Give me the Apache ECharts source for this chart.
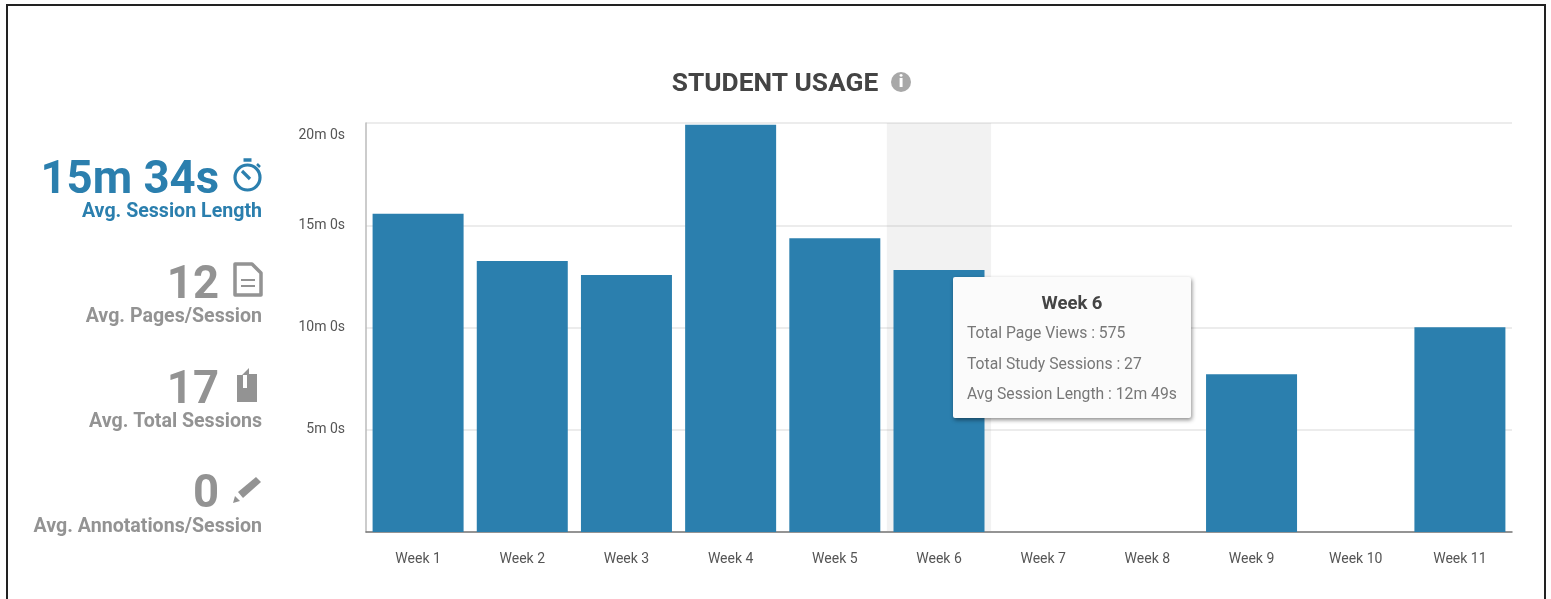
<!DOCTYPE html>
<html>
<head>
<meta charset="utf-8">
<style>
html,body{margin:0;padding:0;background:#fff;overflow:hidden}
#chart{width:1551px;height:599px}
</style>
<script src="https://cdn.jsdelivr.net/npm/echarts@6/dist/echarts.min.js"></script>
</head>
<body>
<div id="chart"></div>
<script>
const categories = ['Week 1','Week 2','Week 3','Week 4','Week 5','Week 6','Week 7','Week 8','Week 9','Week 10','Week 11'];
const sessionSeconds = [934, 795, 754, 1195, 862, 769, 0, 0, 463, 0, 601];
const yTickLabels = ['', '5m 0s', '10m 0s', '15m 0s', '20m 0s'];
const tooltipTitle = 'Week 6';
const tooltipLines = ['Total Page Views : 575', 'Total Study Sessions : 27', 'Avg Session Length : 12m 49s'];
const kpiValues = ['15m 34s', '12', '17', '0'];
const kpiLabels = ['Avg. Session Length', 'Avg. Pages/Session', 'Avg. Total Sessions', 'Avg. Annotations/Session'];
const BLUE = '#2b7fae', GREY = '#939393';
const FF = 'Roboto, sans-serif';

function kpiText(i, numY, capY, color) {
  return [
    {type:'text', silent:true, style:{text:kpiValues[i], x:219, y:numY, align:'right', verticalAlign:'middle', fill:color, font:'bold 45.5px '+FF}},
    {type:'text', silent:true, style:{text:kpiLabels[i], x:262, y:capY, align:'right', verticalAlign:'middle', fill:color, font:'bold 19.6px '+FF}}
  ];
}
const graphic = [
  {type:'rect', silent:true, z:-1, shape:{x:7,y:5,width:1538,height:620}, style:{fill:'#fff',stroke:'#222',lineWidth:2}},
  ...kpiText(0,182,212,BLUE), ...kpiText(1,287,317,GREY), ...kpiText(2,392,422,GREY), ...kpiText(3,496,527,GREY),
  // stopwatch
  {type:'circle', silent:true, shape:{cx:247.5,cy:177.5,r:12.5}, style:{fill:'none',stroke:BLUE,lineWidth:3.2}},
  {type:'line', silent:true, shape:{x1:243.5,y1:160,x2:251.5,y2:160}, style:{stroke:BLUE,lineWidth:3.5}},
  {type:'line', silent:true, shape:{x1:242,y1:171,x2:250,y2:179}, style:{stroke:BLUE,lineWidth:3.2}},
  {type:'line', silent:true, shape:{x1:257,y1:164,x2:260,y2:167}, style:{stroke:BLUE,lineWidth:2.5}},
  // document
  {type:'polygon', silent:true, shape:{points:[[235,264],[252,264],[261,273],[261,295],[235,295]]}, style:{fill:'none',stroke:GREY,lineWidth:3.5,lineJoin:'round'}},
  {type:'line', silent:true, shape:{x1:241,y1:280,x2:255,y2:280}, style:{stroke:GREY,lineWidth:2}},
  {type:'line', silent:true, shape:{x1:241,y1:286,x2:255,y2:286}, style:{stroke:GREY,lineWidth:2}},
  // tablet of sessions
  {type:'polygon', silent:true, shape:{points:[[237,375],[242,375],[249,368],[249,374],[257,374],[257,402],[237,402]]}, style:{fill:GREY}},
  {type:'rect', silent:true, shape:{x:243,y:375,width:4,height:13}, style:{fill:'#fff'}},
  // pencil
  {type:'polygon', silent:true, shape:{points:[[238,492],[256,477],[261,482],[243,498]]}, style:{fill:GREY}},
  {type:'polygon', silent:true, shape:{points:[[233,503],[235,496],[240,501]]}, style:{fill:GREY}},
  // info icon
  {type:'circle', silent:true, shape:{cx:901,cy:82,r:10}, style:{fill:'#a8a8a8'}},
  {type:'text', silent:true, style:{text:'i', x:901, y:82.5, align:'center', verticalAlign:'middle', fill:'#fff', font:'900 17px '+FF}}
];

const chart = echarts.init(document.getElementById('chart'), null, {renderer:'canvas'});
chart.setOption({
  animation:false,
  backgroundColor:'#fff',
  title:{text:'STUDENT USAGE', left:770, top:79, textAlign:'center', textVerticalAlign:'middle',
    textStyle:{fontFamily:FF,fontWeight:'bold',fontSize:26.3,color:'#444'}},
  grid:{left:366,right:39,top:123,bottom:67,containLabel:false},
  tooltip:{
    trigger:'axis', alwaysShowContent:true, showDelay:0, transitionDuration:0,
    axisPointer:{type:'shadow', z:1, shadowStyle:{color:'rgba(150,150,150,0.12)'}},
    position:[953,277],
    padding:0, borderWidth:0, backgroundColor:'#fbfbfb',
    extraCssText:'box-shadow:1px 2px 4px rgba(0,0,0,0.45);border-radius:2px;',
    formatter:function(){
      return '<div style="width:238px;height:141px;box-sizing:border-box;padding:16px 14px 0;font-family:Roboto,sans-serif;color:#777;font-size:15.7px;line-height:30.5px;">'+
        '<div style="text-align:center;font-weight:bold;font-size:18.5px;color:#444;line-height:20px;margin-bottom:5px;">'+tooltipTitle+'</div>'+
        tooltipLines.map(l=>'<div style="white-space:nowrap">'+l+'</div>').join('')+'</div>';
    }
  },
  xAxis:{type:'category', data:categories, boundaryGap:true,
    axisLine:{lineStyle:{color:'#777',width:1.5}}, axisTick:{show:false},
    axisLabel:{color:'#555',fontFamily:FF,fontSize:14,margin:20,interval:0}},
  yAxis:{type:'value', min:0, max:1200, interval:300,
    axisLine:{show:true,lineStyle:{color:'#bbb',width:1.5}}, axisTick:{show:false},
    splitLine:{lineStyle:{color:'#e6e6e6',width:1.5}},
    axisLabel:{color:'#555',fontFamily:FF,fontSize:14,margin:21,lineHeight:20,padding:[2,0,0,0],verticalAlignMaxLabel:'top',
      formatter:function(v){return yTickLabels[Math.round(v/300)];}}},
  series:[{type:'bar', z:2, data:sessionSeconds, barWidth:91, itemStyle:{color:BLUE}, emphasis:{disabled:true}}],
  graphic:graphic
});
chart.dispatchAction({type:'showTip', seriesIndex:0, dataIndex:5});
</script>
</body>
</html>
